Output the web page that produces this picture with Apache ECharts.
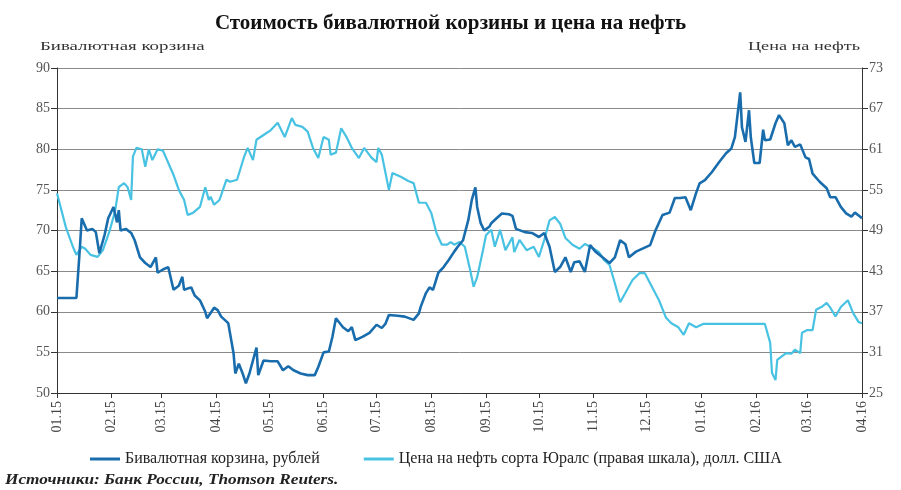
<!DOCTYPE html>
<html><head><meta charset="utf-8">
<script src="https://cdn.jsdelivr.net/npm/echarts@6/dist/echarts.min.js"></script>
<style>html,body{margin:0;padding:0;background:#fff}#c{width:901px;height:490px}</style>
</head><body><div id="c"></div>
<script>
const monthLabels = ['01.15','02.15','03.15','04.15','05.15','06.15','07.15','08.15','09.15','10.15','11.15','12.15','01.16','02.16','03.16','04.16'];
const leftTicks = [50, 90, 5];
const rightTicks = [25, 73, 6];

const basketSeries = [
 ['2015-01-01',61.7],['2015-01-12',61.7],['2015-01-14',68.0],['2015-01-15',71.5],['2015-01-18',70.0],['2015-01-21',70.2],['2015-01-23',69.8],['2015-01-25',67.2],['2015-01-28',69.5],['2015-01-30',71.5],
 ['2015-02-02',72.9],['2015-02-04',71.0],['2015-02-05',72.5],['2015-02-06',70.0],['2015-02-09',70.2],['2015-02-12',69.7],['2015-02-14',68.8],['2015-02-17',66.7],['2015-02-20',66.0],['2015-02-23',65.5],['2015-02-26',66.7],['2015-02-27',64.8],
 ['2015-03-02',65.2],['2015-03-05',65.5],['2015-03-08',62.7],['2015-03-11',63.2],['2015-03-13',64.3],['2015-03-14',62.7],['2015-03-18',63.0],['2015-03-20',62.0],['2015-03-23',61.4],['2015-03-26',60.0],['2015-03-27',59.2],['2015-03-31',60.5],
 ['2015-04-02',60.2],['2015-04-04',59.4],['2015-04-08',58.6],['2015-04-11',54.9],['2015-04-12',52.4],['2015-04-14',53.6],['2015-04-16',52.5],['2015-04-18',51.2],['2015-04-20',52.4],['2015-04-24',55.6],['2015-04-25',52.2],['2015-04-28',54.0],
 ['2015-05-02',53.9],['2015-05-06',53.9],['2015-05-09',52.8],['2015-05-12',53.3],['2015-05-15',52.8],['2015-05-19',52.4],['2015-05-23',52.2],['2015-05-27',52.2],['2015-05-29',53.2],
 ['2015-06-01',55.0],['2015-06-04',55.1],['2015-06-06',56.9],['2015-06-08',59.2],['2015-06-12',58.1],['2015-06-15',57.6],['2015-06-17',58.1],['2015-06-19',56.5],['2015-06-23',56.9],['2015-06-27',57.4],
 ['2015-07-01',58.4],['2015-07-04',58.0],['2015-07-06',58.5],['2015-07-08',59.6],['2015-07-13',59.5],['2015-07-17',59.4],['2015-07-22',59.0],['2015-07-25',59.8],['2015-07-26',60.6],['2015-07-29',62.3],['2015-07-31',63.0],
 ['2015-08-02',62.7],['2015-08-05',64.8],['2015-08-08',65.5],['2015-08-11',66.4],['2015-08-14',67.4],['2015-08-16',68.0],['2015-08-19',68.8],['2015-08-22',71.3],['2015-08-24',73.8],['2015-08-26',75.3],['2015-08-27',72.9],['2015-08-29',70.9],['2015-08-31',70.0],
 ['2015-09-03',70.5],['2015-09-04',70.9],['2015-09-07',71.5],['2015-09-10',72.1],['2015-09-14',72.0],['2015-09-16',71.8],['2015-09-18',70.2],['2015-09-23',69.8],['2015-09-27',69.7],
 ['2015-10-01',69.2],['2015-10-04',69.7],['2015-10-07',68.0],['2015-10-10',64.9],['2015-10-13',65.5],['2015-10-16',66.7],['2015-10-19',64.9],['2015-10-21',66.1],['2015-10-24',66.2],['2015-10-27',64.9],['2015-10-30',68.2],
 ['2015-11-02',67.4],['2015-11-06',66.7],['2015-11-10',66.0],['2015-11-13',66.7],['2015-11-16',68.8],['2015-11-19',68.3],['2015-11-21',66.7],['2015-11-25',67.4],['2015-11-29',67.8],
 ['2015-12-03',68.2],['2015-12-06',70.0],['2015-12-10',71.9],['2015-12-14',72.2],['2015-12-17',74.0],['2015-12-20',74.0],['2015-12-23',74.1],['2015-12-26',72.5],['2015-12-29',74.6],['2015-12-31',75.8],
 ['2016-01-03',76.2],['2016-01-07',77.2],['2016-01-11',78.4],['2016-01-15',79.5],['2016-01-18',80.1],['2016-01-20',81.5],['2016-01-23',87.0],['2016-01-24',82.7],['2016-01-26',80.9],['2016-01-28',84.8],['2016-01-29',81.5],['2016-01-31',78.3],
 ['2016-02-03',78.3],['2016-02-05',82.4],['2016-02-06',81.1],['2016-02-09',81.2],['2016-02-12',83.2],['2016-02-14',84.2],['2016-02-17',83.2],['2016-02-19',80.5],['2016-02-21',81.1],['2016-02-23',80.3],['2016-02-26',80.6],['2016-02-29',79.0],
 ['2016-03-02',78.8],['2016-03-04',77.0],['2016-03-08',76.0],['2016-03-12',75.2],['2016-03-14',74.1],['2016-03-17',74.1],['2016-03-20',72.9],['2016-03-23',72.1],['2016-03-26',71.7],['2016-03-28',72.2],['2016-03-31',71.7],['2016-04-01',71.5]
];

const oilSeries = [
 ['2015-01-01',54.5],['2015-01-06',49.5],['2015-01-10',46.6],['2015-01-12',45.4],['2015-01-15',46.6],['2015-01-17',46.3],['2015-01-20',45.4],['2015-01-24',45.1],['2015-01-27',46.1],['2015-01-31',49.1],
 ['2015-02-03',52.0],['2015-02-05',55.4],['2015-02-08',56.0],['2015-02-10',55.4],['2015-02-12',53.5],['2015-02-13',59.9],['2015-02-15',61.2],['2015-02-18',61.0],['2015-02-20',58.4],['2015-02-22',61.0],['2015-02-24',59.4],['2015-02-27',61.0],
 ['2015-03-02',60.8],['2015-03-05',59.0],['2015-03-08',57.2],['2015-03-11',55.0],['2015-03-14',53.5],['2015-03-16',51.3],['2015-03-19',51.6],['2015-03-23',52.5],['2015-03-26',55.4],['2015-03-28',53.5],['2015-03-29',54.0],['2015-03-31',52.8],
 ['2015-04-03',53.5],['2015-04-07',56.5],['2015-04-09',56.2],['2015-04-13',56.5],['2015-04-17',59.9],['2015-04-19',61.2],['2015-04-22',59.4],['2015-04-24',62.4],['2015-04-28',63.1],
 ['2015-05-02',63.8],['2015-05-06',64.9],['2015-05-10',62.8],['2015-05-14',65.6],['2015-05-16',64.6],['2015-05-20',64.3],['2015-05-23',63.6],['2015-05-26',61.2],['2015-05-29',59.7],
 ['2015-06-01',62.8],['2015-06-04',62.4],['2015-06-05',60.2],['2015-06-08',60.5],['2015-06-11',64.1],['2015-06-14',62.8],['2015-06-17',61.2],['2015-06-21',59.7],['2015-06-24',61.2],['2015-06-28',59.8],
 ['2015-07-01',59.1],['2015-07-02',61.2],['2015-07-04',60.2],['2015-07-08',55.0],['2015-07-10',57.5],['2015-07-15',56.9],['2015-07-19',56.3],['2015-07-22',56.0],['2015-07-25',53.1],['2015-07-29',53.1],
 ['2015-08-01',51.6],['2015-08-04',48.6],['2015-08-07',46.9],['2015-08-10',46.9],['2015-08-12',47.3],['2015-08-14',46.9],['2015-08-17',47.3],['2015-08-20',46.6],['2015-08-23',43.2],['2015-08-25',40.7],['2015-08-27',42.1],['2015-08-30',45.7],
 ['2015-09-01',48.3],['2015-09-04',49.1],['2015-09-06',46.6],['2015-09-09',49.1],['2015-09-12',46.1],['2015-09-16',48.0],['2015-09-17',45.8],['2015-09-20',47.6],['2015-09-24',46.1],['2015-09-28',46.6],
 ['2015-10-01',45.1],['2015-10-04',47.6],['2015-10-07',50.5],['2015-10-10',51.0],['2015-10-13',50.0],['2015-10-16',47.9],['2015-10-20',46.9],['2015-10-24',46.3],['2015-10-27',47.0],['2015-10-31',46.5],
 ['2015-11-04',45.8],['2015-11-07',44.6],['2015-11-10',43.9],['2015-11-13',41.2],['2015-11-16',38.4],['2015-11-19',39.8],['2015-11-23',41.7],['2015-11-27',42.7],['2015-11-30',42.7],
 ['2015-12-04',40.7],['2015-12-08',38.7],['2015-12-12',36.1],['2015-12-15',35.3],['2015-12-19',34.7],['2015-12-22',33.6],['2015-12-25',35.3],['2015-12-29',34.7],
 ['2016-01-02',35.2],['2016-02-06',35.2],['2016-02-09',32.4],['2016-02-10',28.0],['2016-02-12',26.9],['2016-02-13',29.9],['2016-02-15',30.3],['2016-02-18',30.9],['2016-02-21',30.8],['2016-02-23',31.4],['2016-02-26',30.9],['2016-02-27',33.9],
 ['2016-03-01',34.3],['2016-03-04',34.3],['2016-03-06',37.3],['2016-03-09',37.7],['2016-03-12',38.3],['2016-03-14',37.6],['2016-03-17',36.3],['2016-03-20',37.7],['2016-03-24',38.7],['2016-03-27',36.8],['2016-03-30',35.5],['2016-04-01',35.3]
];

const titleText = 'Стоимость бивалютной корзины и цена на нефть';
const leftName = 'Бивалютная корзина';
const rightName = 'Цена на нефть';
const basketName = 'Бивалютная корзина, рублей';
const oilName = 'Цена на нефть сорта Юралс (правая шкала), долл. США';
const sourceText = 'Источники: Банк России, Thomson Reuters.';

const serif = "'Liberation Serif','Times New Roman','DejaVu Serif',serif";
function toTs(s){ const p = s.split('-'); return Date.UTC(+p[0], +p[1]-1, +p[2]); }
const monthTs = monthLabels.map(l => { const p = l.split('.'); return Date.UTC(2000 + +p[1], +p[0]-1, 1); });
const basketData = basketSeries.map(d => [toTs(d[0]), d[1]]);
const oilData = oilSeries.map(d => [toTs(d[0]), d[1]]);

const chart = echarts.init(document.getElementById('c'), null, {renderer:'canvas'});
chart.setOption({
  animation: false,
  backgroundColor: '#fff',
  title: { text: titleText, left: 'center', top: 8,
    textStyle: { fontFamily: serif, fontSize: 21, fontWeight: 'bold', color: '#111' } },
  grid: { left: 57, right: 39, top: 68, bottom: 97, containLabel: false },
  legend: { left: 85, top: 446, itemWidth: 30, itemHeight: 3, itemGap: 44, icon: 'rect',
    textStyle: { fontFamily: serif, fontSize: 16, color: '#222' },
    data: [basketName, oilName] },
  xAxis: {
    type: 'value', min: monthTs[0], max: monthTs[monthTs.length-1],
    splitLine: { show: false },
    axisLine: { lineStyle: { color: '#333', width: 1 } },
    axisTick: { show: true, length: 5, customValues: monthTs, lineStyle: { color: '#333' } },
    axisLabel: { customValues: monthTs, rotate: 90, margin: 8,
      fontFamily: serif, fontSize: 14, color: '#444',
      formatter: v => { const i = monthTs.indexOf(v); return i >= 0 ? monthLabels[i] : ''; } }
  },
  yAxis: [
    { type: 'value', min: leftTicks[0], max: leftTicks[1], interval: leftTicks[2],
      axisLine: { show: true, lineStyle: { color: '#333' } },
      axisTick: { show: true, length: 6, lineStyle: { color: '#333' } },
      axisLabel: { fontFamily: serif, fontSize: 14, color: '#555', margin: 7 },
      splitLine: { lineStyle: { color: '#8a8a8a', width: 1 } } },
    { type: 'value', min: rightTicks[0], max: rightTicks[1], interval: rightTicks[2], position: 'right',
      axisLine: { show: true, lineStyle: { color: '#333' } },
      axisTick: { show: true, length: 6, lineStyle: { color: '#333' } },
      axisLabel: { fontFamily: serif, fontSize: 14, color: '#555', margin: 7 },
      splitLine: { show: false } }
  ],
  graphic: [
    { type: 'text', x: 40, y: 40, scaleX: 1.45,
      style: { text: leftName, font: "13px " + serif, fill: '#333', textAlign: 'left', textVerticalAlign: 'top' } },
    { type: 'text', x: 860, y: 40, scaleX: 1.4,
      style: { text: rightName, font: "13px " + serif, fill: '#333', textAlign: 'right', textVerticalAlign: 'top' } },
    { type: 'text', x: 5, y: 473, scaleX: 1.15,
      style: { text: sourceText, font: "italic bold 15px " + serif, fill: '#222', textAlign: 'left', textVerticalAlign: 'top' } }
  ],
  series: [
    { name: basketName, type: 'line', yAxisIndex: 0, data: basketData, symbol: 'none',
      lineStyle: { color: '#1a6dad', width: 2.6 }, itemStyle: { color: '#1a6dad' }, z: 3 },
    { name: oilName, type: 'line', yAxisIndex: 1, data: oilData, symbol: 'none',
      lineStyle: { color: '#48c2e2', width: 2.2 }, itemStyle: { color: '#48c2e2' }, z: 2 }
  ]
});
</script></body></html>
